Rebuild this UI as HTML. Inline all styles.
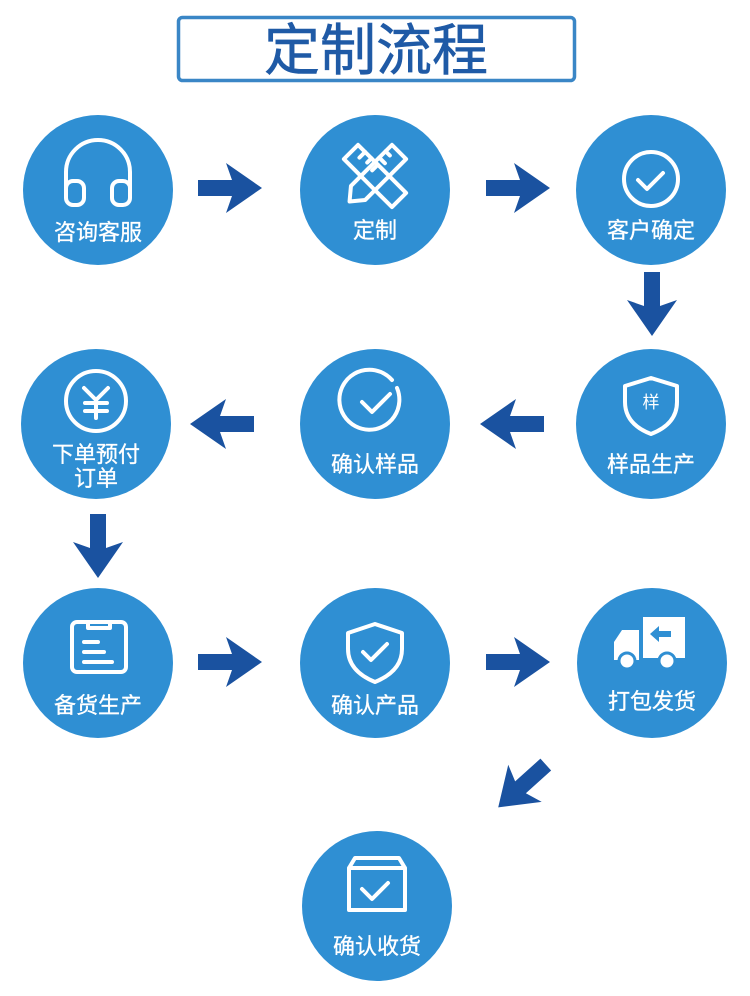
<!DOCTYPE html>
<html><head><meta charset="utf-8"><style>
html,body{margin:0;padding:0;background:#fff;}
svg{display:block;}
text{font-family:"Liberation Sans","Noto Sans CJK SC",sans-serif;}
</style></head><body>
<svg width="750" height="996" viewBox="0 0 750 996" xmlns="http://www.w3.org/2000/svg">
<defs>
<path id="arr" d="M-32,-8 L2,-8 L-4,-25 L32,0 L-4,25 L2,8 L-32,8 Z" fill="#1a52a0"/>
</defs>
<rect x="178.5" y="17.5" width="396" height="63" rx="4" fill="#fff" stroke="#3a86c6" stroke-width="3.5"/>
<text x="376" y="70" text-anchor="middle" font-size="56" fill="#1f5aa6" stroke="#1f5aa6" stroke-width="0.6">定制流程</text>

<g fill="#2f8fd3">
<circle cx="98" cy="190" r="75"/><circle cx="375" cy="190" r="75"/><circle cx="651" cy="190" r="75"/>
<circle cx="96" cy="424" r="75"/><circle cx="375" cy="424" r="75"/><circle cx="651" cy="424" r="75"/>
<circle cx="98" cy="663" r="75"/><circle cx="375" cy="663" r="75"/><circle cx="652" cy="663" r="75"/>
<circle cx="377" cy="906" r="75"/>
</g>

<use href="#arr" transform="translate(230,188)"/>
<use href="#arr" transform="translate(518,188)"/>
<use href="#arr" transform="translate(652,304) rotate(90)"/>
<use href="#arr" transform="translate(222,424) rotate(180)"/>
<use href="#arr" transform="translate(512,424) rotate(180)"/>
<use href="#arr" transform="translate(98,546) rotate(90)"/>
<use href="#arr" transform="translate(230,662)"/>
<use href="#arr" transform="translate(518,662)"/>
<use href="#arr" transform="translate(522,786) rotate(138)"/>

<g fill="#fff" font-size="22" text-anchor="middle" stroke="#fff" stroke-width="0.3">
<text x="98" y="240">咨询客服</text>
<text x="375" y="238">定制</text>
<text x="651" y="238">客户确定</text>
<text x="96" y="462">下单预付</text>
<text x="96" y="486">订单</text>
<text x="375" y="472">确认样品</text>
<text x="651" y="472">样品生产</text>
<text x="98" y="713">备货生产</text>
<text x="375" y="713">确认产品</text>
<text x="652" y="709">打包发货</text>
<text x="377" y="954">确认收货</text>
</g>

<g fill="none" stroke="#fff" stroke-width="4" stroke-linecap="round" stroke-linejoin="round">
<!-- headphones -->
<path d="M66,190 V172 A32,32 0 0 1 130,172 V190"/>
<rect x="66" y="181" width="18" height="24" rx="7"/>
<rect x="112" y="181" width="18" height="24" rx="7"/>
<!-- ruler/pencil -->
<g transform="translate(375,176) rotate(45)">
<rect x="-34" y="-10" width="68" height="20"/>
<path d="M-24,-10 v8 M-15,-10 v6 M-6,-10 v8"/>
</g>
<g transform="translate(375,176) rotate(-45)">
<path d="M-24,-10 H34 V10 H-24 L-36,0 Z"/>
<path d="M16,-10 v8 M25,-10 v6"/>
</g>
<!-- check circle -->
<circle cx="651" cy="179" r="27"/>
<path d="M638,180 l9,9 l16,-16"/>
<!-- yen -->
<circle cx="96" cy="401" r="30"/>
<path d="M84,388 l12,12 l12,-12 M96,400 v18 M85,403 h22 M85,411 h22"/>
<!-- check open circle -->
<path d="M397,388 A30,30 0 1 1 392,380"/>
<path d="M362,402 l10,10 l18,-18"/>
<!-- shield 样 -->
<path d="M651,378 l26,8 v16 q0,22 -26,32 q-26,-10 -26,-32 v-16 Z"/>
<!-- clipboard -->
<rect x="72" y="622" width="54" height="50" rx="5"/>
<path d="M88,622 v6 h22 v-6 M84,642 h14 M84,652 h20 M84,662 h28"/>
<!-- shield check -->
<path d="M375,624 l27,9 v16 q0,22 -27,33 q-27,-11 -27,-33 v-16 Z"/>
<path d="M363,652 l8,8 l16,-16"/>
<!-- box check -->
<path d="M349,868 l6,-10 h44 l6,10 v42 h-56 Z M349,868 h56"/>
<path d="M362,889 l10,10 l16,-16"/>
</g>
<text x="651" y="408" font-size="17" fill="#fff" text-anchor="middle">样</text>
<!-- truck -->
<g fill="#fff">
<rect x="643" y="617" width="42" height="41"/>
<path d="M614,660 v-18 l8,-12 h17 v30 Z"/>
<circle cx="627" cy="661" r="8" stroke="#2f8fd3" stroke-width="3"/>
<circle cx="667" cy="661" r="8" stroke="#2f8fd3" stroke-width="3"/>
</g>
<path d="M650,634 l9,-8 v5 h12 v6 h-12 v5 Z" fill="#2f8fd3"/>
</svg>
</body></html>
